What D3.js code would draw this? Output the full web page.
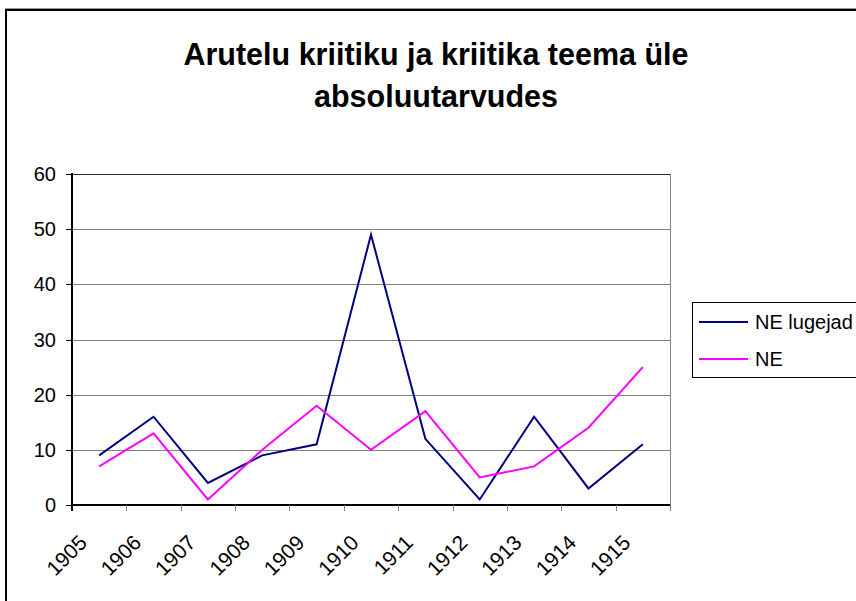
<!DOCTYPE html>
<html>
<head>
  <script src="https://d3js.org/d3.v7.min.js"></script>
  <style>
  html, body {
    margin: 0px;
    background: #fff;
  }
  svg text {
    font-family: Arial, "Liberation Sans", sans-serif;
    fill: #000;
  }
  </style>
</head>
<body>
  <svg id="chart" width="856" height="601"></svg>
  <script>

  // data
  var years = ['1905','1906','1907','1908','1909','1910','1911','1912','1913','1914','1915'];
  var lugejad = [9, 16, 4, 9, 11, 49, 12, 1, 16, 3, 11];
  var ne = [7, 13, 1, 10, 18, 10, 17, 5, 7, 14, 25];
  var yTicks = [0, 10, 20, 30, 40, 50, 60];
  var seriesNames = ['NE lugejad', 'NE'];
  var seriesColors = ['#000080', '#ff00ff'];
  var titleLines = ['Arutelu kriitiku ja kriitika teema üle', 'absoluutarvudes'];

  var svg = d3.select('#chart');

  // note: "top" is taken by window.top
  var pLeft = 72, pRight = 670, pTop = 174, pBottom = 505;

  var x = d3.scaleBand().domain(years).range([pLeft, pRight]);
  var y = d3.scaleLinear().domain([0, 60]).range([pBottom, pTop]);

  // outer frame (only top and left edges show)
  svg.append('line').attr('x1', 5).attr('x2', 856).attr('y1', 8.5).attr('y2', 8.5)
    .attr('stroke', '#999').attr('stroke-width', 1);
  svg.append('line').attr('x1', 5).attr('x2', 856).attr('y1', 10).attr('y2', 10)
    .attr('stroke', '#000').attr('stroke-width', 2);
  svg.append('line').attr('x1', 6).attr('x2', 6).attr('y1', 9).attr('y2', 601)
    .attr('stroke', '#000').attr('stroke-width', 2);

  // title
  svg.append('g').selectAll('text')
    .data(titleLines)
    .enter().append('text')
    .attr('x', 436)
    .attr('y', function(d, i) { return 65 + i * 42; })
    .attr('text-anchor', 'middle')
    .style('font-size', '30.5px')
    .style('font-weight', 'bold')
    .text(function(d) { return d; });

  // gridlines
  svg.append('g').selectAll('line')
    .data(yTicks.filter(function(d) { return d > 0; }))
    .enter().append('line')
    .attr('x1', pLeft).attr('x2', pRight)
    .attr('y1', function(d) { return Math.round(y(d)) + 0.5; })
    .attr('y2', function(d) { return Math.round(y(d)) + 0.5; })
    .attr('stroke', function(d) { return d === 60 ? '#333' : '#808080'; })
    .attr('stroke-width', 1);

  // right border of plot area
  svg.append('line').attr('x1', pRight + 0.5).attr('x2', pRight + 0.5)
    .attr('y1', pTop).attr('y2', pBottom + 6)
    .attr('stroke', '#808080');

  // x axis
  var gx = svg.append('g').attr('transform', 'translate(0,' + pBottom + ')');
  gx.append('line').attr('x1', pLeft).attr('x2', pRight).attr('y1', 0).attr('y2', 0)
    .attr('stroke', '#000').attr('stroke-width', 2);
  gx.selectAll('.tk')
    .data(years.concat(['end']))
    .enter().append('line')
    .attr('class', 'tk')
    .attr('x1', function(d, i) { return Math.round(pLeft + i * x.step()) + 0.5; })
    .attr('x2', function(d, i) { return Math.round(pLeft + i * x.step()) + 0.5; })
    .attr('y1', 0).attr('y2', 6)
    .attr('stroke', '#808080');
  gx.selectAll('.lbl')
    .data(years)
    .enter().append('text')
    .attr('class', 'lbl')
    .attr('text-anchor', 'end')
    .attr('transform', function(d) {
      return 'translate(' + (x(d) + x.bandwidth() / 2 - 11) + ',39) rotate(-45)';
    })
    .style('font-size', '21px')
    .text(function(d) { return d; });

  // y axis
  var gy = svg.append('g');
  gy.append('line').attr('x1', pLeft).attr('x2', pLeft).attr('y1', pTop - 1).attr('y2', pBottom + 6)
    .attr('stroke', '#000').attr('stroke-width', 2);
  gy.selectAll('.tk')
    .data(yTicks)
    .enter().append('line')
    .attr('class', 'tk')
    .attr('x1', pLeft - 6).attr('x2', pLeft)
    .attr('y1', function(d) { return Math.round(y(d)) + 0.5; })
    .attr('y2', function(d) { return Math.round(y(d)) + 0.5; })
    .attr('stroke', '#000');
  gy.selectAll('.lbl')
    .data(yTicks)
    .enter().append('text')
    .attr('class', 'lbl')
    .attr('x', 56)
    .attr('y', function(d) { return y(d) + 7; })
    .attr('text-anchor', 'end')
    .style('font-size', '20px')
    .text(function(d) { return d; });

  // lines
  var line = d3.line()
    .x(function(d, i) { return x(years[i]) + x.bandwidth() / 2; })
    .y(function(d) { return y(d); });

  svg.append('g').selectAll('path')
    .data([lugejad, ne])
    .enter().append('path')
    .attr('d', line)
    .attr('fill', 'none')
    .attr('stroke', function(d, i) { return seriesColors[i]; })
    .attr('stroke-width', 2);

  // legend
  var lg = svg.append('g');
  lg.append('rect').attr('x', 692.5).attr('y', 302.5).attr('width', 200).attr('height', 75)
    .attr('fill', '#fff').attr('stroke', '#000');
  var items = lg.selectAll('.item')
    .data(seriesNames)
    .enter().append('g')
    .attr('class', 'item')
    .attr('transform', function(d, i) { return 'translate(0,' + (322 + i * 37) + ')'; });
  items.append('line').attr('x1', 699).attr('x2', 748).attr('y1', 0).attr('y2', 0)
    .attr('stroke', function(d, i) { return seriesColors[i]; })
    .attr('stroke-width', 2);
  items.append('text').attr('x', 755).attr('y', 7)
    .style('font-size', '20px')
    .text(function(d) { return d; });

  </script>
</body>
</html>
